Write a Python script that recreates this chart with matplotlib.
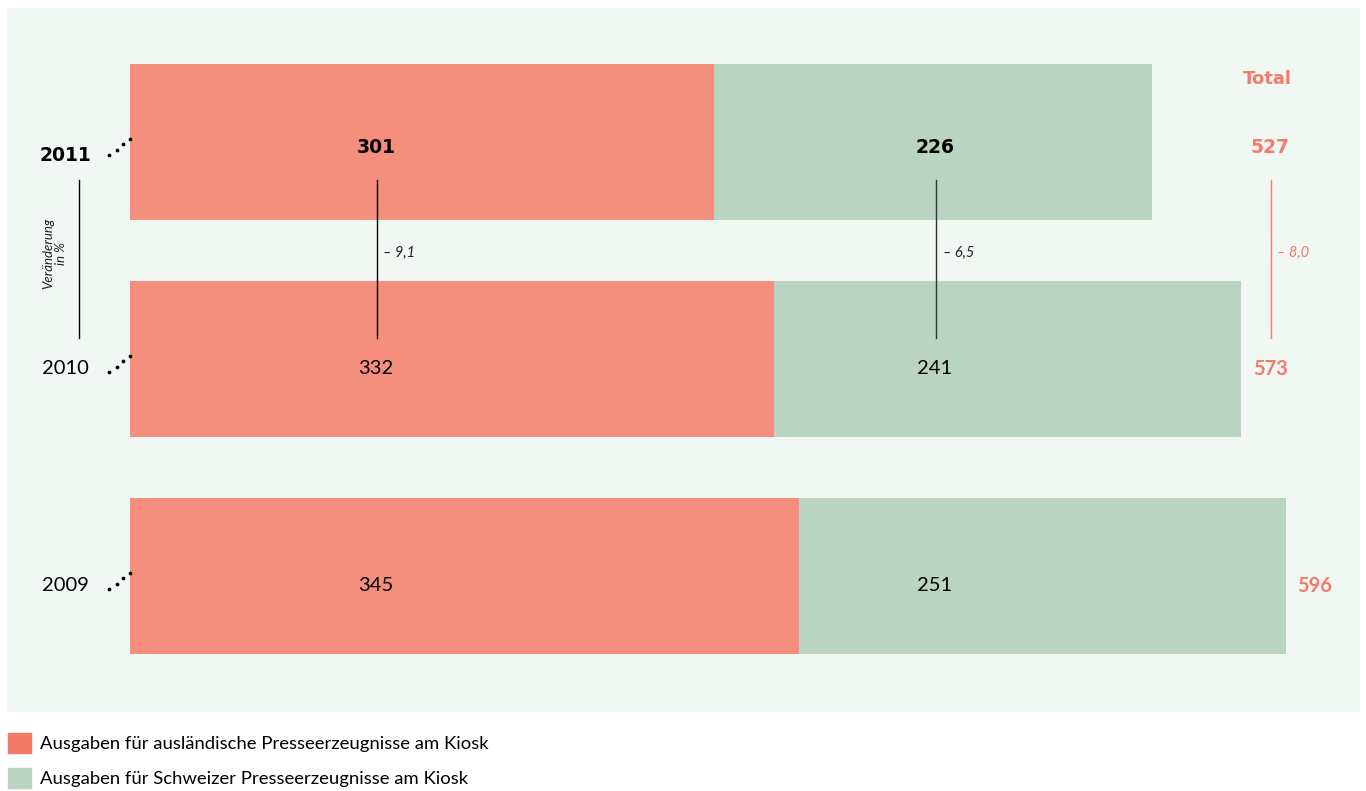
import matplotlib.pyplot as plt
from matplotlib.patches import Patch

plt.rcParams['font.family'] = ['Lato', 'DejaVu Sans']

# Kiosk spending by origin of press products (in CHF millions)
years = ['2009', '2010', '2011']
foreign = [345, 332, 301]
swiss = [251, 241, 226]
totals = [596, 573, 527]
# change 2010 -> 2011 in percent
change_foreign = '– 9,1'
change_swiss = '– 6,5'
change_total = '– 8,0'

RED = '#f48f7e'
RED_DARK = '#f47a6a'
GREEN = '#b9d4c3'
PANEL = '#f1f7f3'
HEAVY = dict(family='DejaVu Sans', fontweight='bold')

fig = plt.figure(figsize=(13.66, 7.91), dpi=100)
W, H = 1366, 791
ax = fig.add_axes([7 / W, (H - 712) / H, (1360 - 7) / W, (712 - 8) / H])
ax.set_facecolor(PANEL)
for s in ax.spines.values():
    s.set_visible(False)
ax.set_xticks([])
ax.set_yticks([])
ax.set_xlim(-63.4, 634.2)
ax.set_ylim(-0.627, 2.6175)

ypos = list(range(len(years)))
bar_h = 0.719
ax.barh(ypos, foreign, height=bar_h, color=RED, linewidth=0)
ax.barh(ypos, swiss, left=foreign, height=bar_h, color=GREEN, linewidth=0)

for i, y in enumerate(ypos):
    latest = i == len(years) - 1
    if latest:
        style = dict(HEAVY, fontsize=13.5)
        dy = 0.025
    else:
        style = dict(fontsize=14.5)
        dy = 0.045
    ax.text(126.8, y - dy, str(foreign[i]), ha='center', va='center',
            color='black', **style)
    ax.text(415, y - dy, str(swiss[i]), ha='center', va='center',
            color='black', **style)
    tot_style = style if latest else dict(fontsize=14.5, fontweight='bold')
    ax.text(max(588, totals[i] + 15), y - dy, str(totals[i]), ha='center',
            va='center', color=RED_DARK, **tot_style)
    ax.text(-33.5, y - (0.06 if latest else 0.045), years[i], ha='center',
            va='center', color='black', **style)
    # dotted connector from the year label to the bar
    ax.plot([-10.8, -6.7, -3.6, 0.0], [y - 0.060, y - 0.037, y - 0.011, y + 0.014],
            ls='none', marker='o', ms=1.7, color='black')

ax.text(586.2, 2.29, 'Total', ha='center', va='center', fontsize=13,
        color=RED_DARK, **HEAVY)

# change markers between 2010 and 2011
y_top, y_bot, y_mid = 1.825, 1.097, 1.488
ax.plot([127.3, 127.3], [y_bot, y_top], color='black', lw=1)
ax.plot([415.5, 415.5], [y_bot, y_top], color='#333333', lw=1)
ax.plot([588.5, 588.5], [y_bot, y_top], color=RED_DARK, lw=1)
ax.plot([-26.3, -26.3], [y_bot, y_top], color='black', lw=1)
ax.text(130.5, y_mid, change_foreign, ha='left', va='center', fontsize=10.5,
        style='italic', color='#222222')
ax.text(419, y_mid, change_swiss, ha='left', va='center', fontsize=10.5,
        style='italic', color='#222222')
ax.text(591.5, y_mid, change_total, ha='left', va='center', fontsize=10.5,
        style='italic', color=RED_DARK)
ax.text(-38.7, y_mid, 'Veränderung\nin %', ha='center', va='center',
        rotation=90, fontsize=9.5, style='italic', color='#222222',
        linespacing=1.1)

handles = [Patch(color=RED_DARK), Patch(color=GREEN)]
labels = ['Ausgaben für ausländische Presseerzeugnisse am Kiosk',
          'Ausgaben für Schweizer Presseerzeugnisse am Kiosk']
fig.legend(handles, labels, loc='upper left', bbox_to_anchor=(8 / W, 1 - 733 / H),
           frameon=False, fontsize=13.3, handlelength=1.25, handleheight=1.25,
           handletextpad=0.5, labelspacing=0.85, borderaxespad=0.0,
           borderpad=0.0)

fig.savefig('out.png', dpi=100, facecolor='white')
